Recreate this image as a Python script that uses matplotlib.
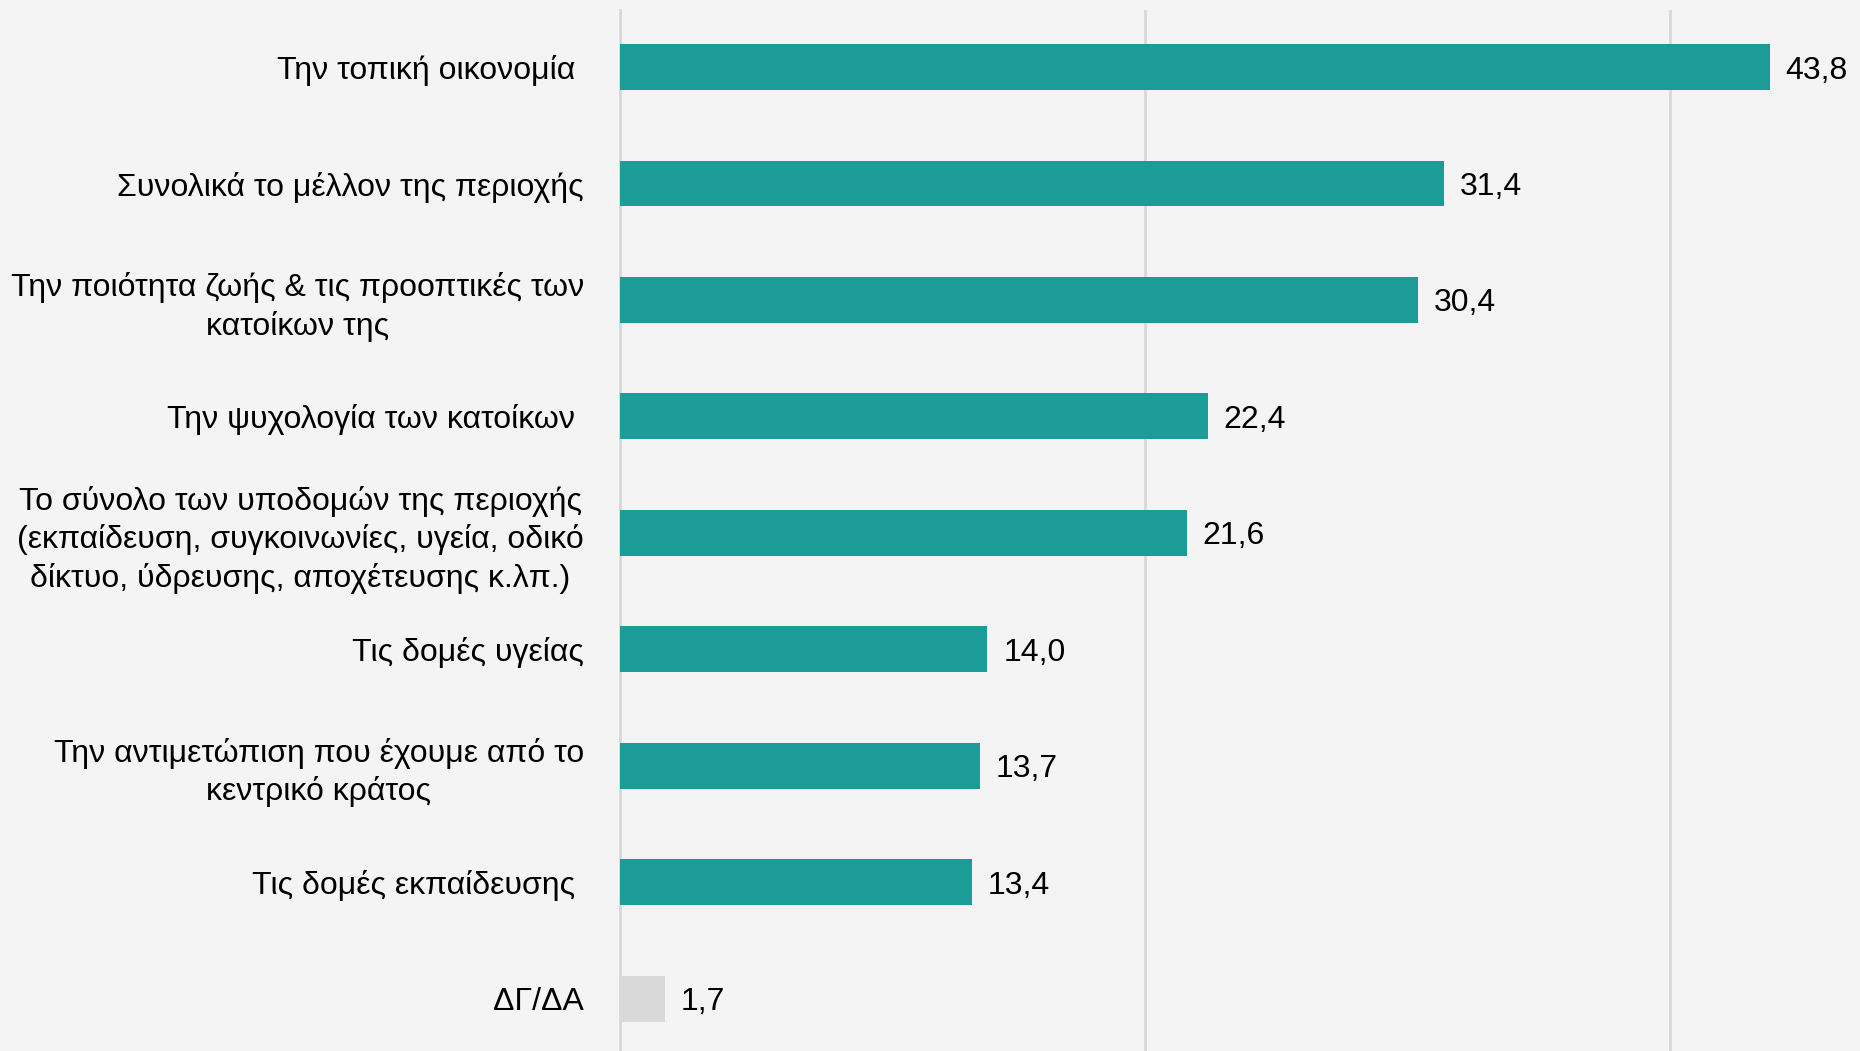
import numpy as np
import matplotlib
matplotlib.use('Agg')
import matplotlib.pyplot as plt

# --- data ---
categories = [
    'Την τοπική οικονομία ',
    'Συνολικά το μέλλον της περιοχής',
    'Την ποιότητα ζωής & τις προοπτικές των\nκατοίκων της',
    'Την ψυχολογία των κατοίκων ',
    'Το σύνολο των υποδομών της περιοχής\n(εκπαίδευση, συγκοινωνίες, υγεία, οδικό\nδίκτυο, ύδρευσης, αποχέτευσης κ.λπ.)',
    'Τις δομές υγείας',
    'Την αντιμετώπιση που έχουμε από το\nκεντρικό κράτος',
    'Τις δομές εκπαίδευσης ',
    'ΔΓ/ΔΑ',
]
values = [43.8, 31.4, 30.4, 22.4, 21.6, 14.0, 13.7, 13.4, 1.7]
value_labels = ['43,8', '31,4', '30,4', '22,4', '21,6', '14,0', '13,7', '13,4', '1,7']

TEAL = '#1C9C98'
GREY = '#D9D9D9'
BG = '#F4F4F4'
FS = 23

plt.rcParams['font.family'] = ['Liberation Sans', 'DejaVu Sans']

fig = plt.figure(figsize=(18.6, 10.51), dpi=100, facecolor=BG)
ax = fig.add_axes([620 / 1860, 0.0, 1 - 620 / 1860, 1 - 10 / 1051], facecolor=BG)

y = np.arange(len(categories))
colors = [TEAL] * (len(values) - 1) + [GREY]
ax.barh(y, values, height=0.395, color=colors, zorder=3)

# value labels right of the bars
for yi, v, lab in zip(y, values, value_labels):
    ax.text(v + 0.6, yi + 0.03, lab, va='center', ha='left', fontsize=FS, color='black')

ax.set_xlim(0, 47.24)
ax.set_ylim(8.45, -0.49)
ax.set_xticks([0, 20, 40])
ax.xaxis.grid(True, color='#D9D9D9', linewidth=2, zorder=0)
ax.tick_params(axis='x', length=0, labelbottom=False)
ax.tick_params(axis='y', length=0, pad=26)
ax.set_yticks(y)
ax.set_yticklabels(categories, fontsize=FS, multialignment='center', linespacing=1.3)

for s in ['top', 'right', 'bottom']:
    ax.spines[s].set_visible(False)
ax.spines['left'].set_color('#D9D9D9')
ax.spines['left'].set_linewidth(2)

fig.savefig('out.png', dpi=100, facecolor=BG)
